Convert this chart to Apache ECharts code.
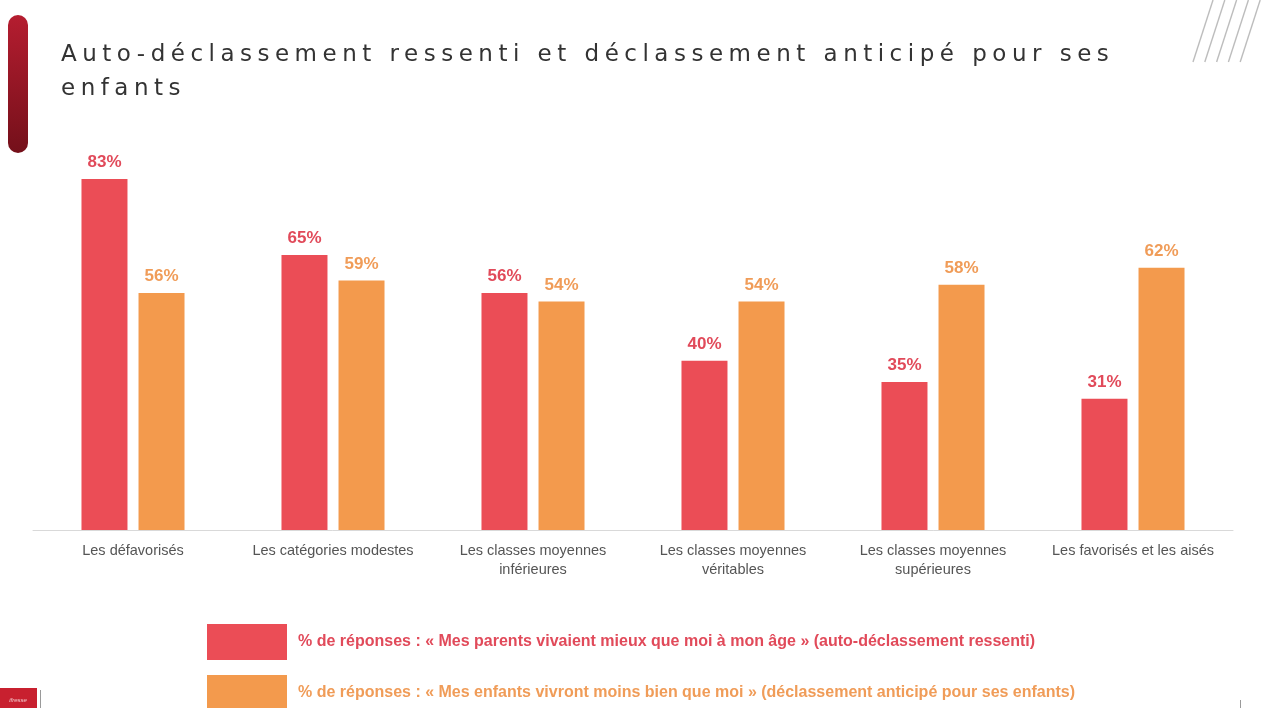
<!DOCTYPE html>
<html lang="fr">
<head>
<meta charset="utf-8">
<title>Auto-déclassement ressenti et déclassement anticipé pour ses enfants</title>
<script src="https://cdn.jsdelivr.net/npm/echarts@6/dist/echarts.min.js"></script>
<style>
  html, body { margin: 0; padding: 0; background: #ffffff; }
  #wrap { position: relative; width: 1262px; height: 708px; overflow: hidden; }
  #chart { position: absolute; left: 0; top: 0; width: 1262px; height: 708px; }
  #heading {
    position: absolute;
    left: 61px;
    top: 36px;
    margin: 0;
    font-family: 'DejaVu Sans', sans-serif;
    font-size: 23px;
    font-weight: normal;
    line-height: 34px;
    letter-spacing: 5.5px;
    color: #333333;
    z-index: 2;
    white-space: pre;
  }
</style>
</head>
<body>
<div id="wrap">
  <div id="chart"></div>
  <h1 id="heading"></h1>
</div>
<script>
// Social groups on the horizontal axis
const categories = [
  'Les défavorisés',
  'Les catégories modestes',
  'Les classes moyennes\ninférieures',
  'Les classes moyennes\nvéritables',
  'Les classes moyennes\nsupérieures',
  'Les favorisés et les aisés'
];

// Share of answers, in percent
const parentsLivedBetter = [83, 65, 56, 40, 35, 31];
const childrenWillLiveWorse = [56, 59, 54, 54, 58, 62];

const seriesNames = [
  '% de réponses : « Mes parents vivaient mieux que moi à mon âge » (auto-déclassement ressenti)',
  '% de réponses : « Mes enfants vivront moins bien que moi » (déclassement anticipé pour ses enfants)'
];

const titleLines = [
  'Auto-déclassement ressenti et déclassement anticipé pour ses',
  'enfants'
];

document.getElementById('heading').textContent = titleLines.join('\n');

const RED = '#eb4d56';
const ORANGE = '#f39a4d';
const RED_TEXT = '#e14a5a';
const ORANGE_TEXT = '#f09c58';

const chart = echarts.init(document.getElementById('chart'), null, { renderer: 'canvas' });

// Hatched corner decoration
const diagonalLines = [0, 1, 2, 3, 4].map(i => ({
  type: 'line',
  shape: { x1: 1193 + i * 11.8, y1: 62, x2: 1213 + i * 11.8, y2: 0 },
  style: { stroke: '#bdbdbd', lineWidth: 1.4 },
  silent: true
}));

const legendText = {
  fontFamily: 'Liberation Sans, Arial, sans-serif',
  fontSize: 16,
  fontWeight: 'bold',
  padding: [5, 0, 0, 6]
};

const option = {
  backgroundColor: '#ffffff',
  animation: false,
  graphic: [
    {
      type: 'rect',
      shape: { x: 8, y: 15, width: 20, height: 138, r: 10 },
      style: {
        fill: new echarts.graphic.LinearGradient(0, 0, 0, 1, [
          { offset: 0, color: '#b51d30' },
          { offset: 1, color: '#74101a' }
        ])
      },
      silent: true
    },
    ...diagonalLines,
    {
      type: 'rect',
      shape: { x: 0, y: 688, width: 37, height: 20 },
      style: { fill: '#c8202f' },
      silent: true
    },
    {
      type: 'text',
      style: { x: 18, y: 700, text: 'ifresse', fill: '#f3c9cc', fontSize: 6, fontStyle: 'italic', align: 'center', verticalAlign: 'middle' },
      silent: true
    },
    {
      type: 'line',
      shape: { x1: 40.5, y1: 690, x2: 40.5, y2: 708 },
      style: { stroke: '#9a9a9a', lineWidth: 1 },
      silent: true
    },
    {
      type: 'line',
      shape: { x1: 1240.5, y1: 700, x2: 1240.5, y2: 708 },
      style: { stroke: '#9a9a9a', lineWidth: 1 },
      silent: true
    }
  ],
  legend: [
    {
      left: 207,
      top: 624,
      padding: 0,
      itemWidth: 80,
      itemHeight: 36,
      icon: 'rect',
      selectedMode: false,
      data: [{ name: seriesNames[0], textStyle: { color: RED_TEXT } }],
      textStyle: legendText
    },
    {
      left: 207,
      top: 675,
      padding: 0,
      itemWidth: 80,
      itemHeight: 36,
      icon: 'rect',
      selectedMode: false,
      data: [{ name: seriesNames[1], textStyle: { color: ORANGE_TEXT } }],
      textStyle: legendText
    }
  ],
  grid: {
    left: 33,
    right: 29,
    top: 107,
    bottom: 178,
    containLabel: false
  },
  xAxis: {
    type: 'category',
    data: categories,
    axisLine: { lineStyle: { color: '#d9d9d9', width: 1 } },
    axisTick: { show: false },
    axisLabel: {
      interval: 0,
      margin: 11,
      color: '#555555',
      fontFamily: 'Liberation Sans, Arial, sans-serif',
      fontSize: 14.5,
      lineHeight: 19
    }
  },
  yAxis: {
    type: 'value',
    min: 0,
    max: 100,
    show: false,
    splitLine: { show: false }
  },
  series: [
    {
      name: seriesNames[0],
      type: 'bar',
      data: parentsLivedBetter,
      barWidth: 46,
      barGap: '24%',
      itemStyle: { color: RED },
      label: {
        show: true,
        position: 'top',
        distance: 8,
        formatter: '{c}%',
        color: RED_TEXT,
        fontFamily: 'Liberation Sans, Arial, sans-serif',
        fontWeight: 'bold',
        fontSize: 17
      }
    },
    {
      name: seriesNames[1],
      type: 'bar',
      data: childrenWillLiveWorse,
      barWidth: 46,
      barGap: '24%',
      itemStyle: { color: ORANGE },
      label: {
        show: true,
        position: 'top',
        distance: 8,
        formatter: '{c}%',
        color: ORANGE_TEXT,
        fontFamily: 'Liberation Sans, Arial, sans-serif',
        fontWeight: 'bold',
        fontSize: 17
      }
    }
  ]
};

chart.setOption(option);
</script>
</body>
</html>
